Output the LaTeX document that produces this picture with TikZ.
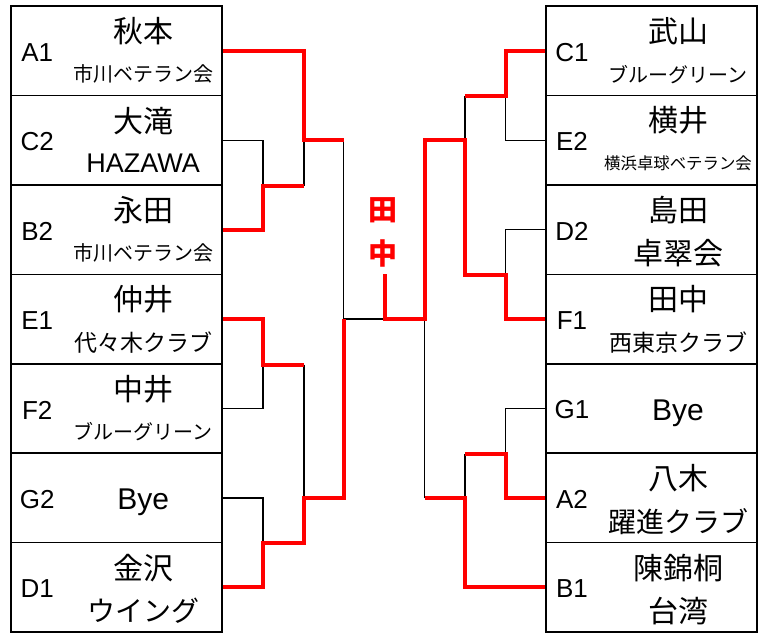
\documentclass[tikz,border=0pt]{standalone}
\usepackage{fontspec}
\setmainfont{Liberation Sans}
\newfontfamily\jp{Noto Sans CJK JP}
\usetikzlibrary{calc}
\newcommand\jn[1]{{\jp\fontsize{30}{30}\selectfont #1}}
\newcommand\js[2]{{\jp\fontsize{#1}{#1}\selectfont #2}}
\newcommand\latn[1]{{\fontsize{27}{27}\selectfont #1}}
\tikzset{
  pbox/.style={draw, line width=1.6pt, minimum width=211pt, minimum height=89.4pt, inner sep=0pt},
  codetext/.style={inner sep=0pt, font=\fontsize{26}{26}\selectfont},
  plain/.style={inner sep=0pt},
  lose/.style={draw=black, line width=1.3pt},
  win/.style={draw=red, line width=4pt, line join=miter}
}
\newcommand\player[6]{%
  \node[pbox] (#1) at (#2,#3) {};
  \node[codetext] (#1c) at ($(#1.north west)+(27,47)$) {#4};
  \node[plain] (#1n) at ($(#1.north west)+(133,26)$) {#5};
  \node[plain] (#1s) at ($(#1.north west)+(133,69)$) {#6};
}
\newcommand\byeplayer[3]{%
  \node[pbox] (#1) at (#2,#3) {};
  \node[codetext] (#1c) at ($(#1.north west)+(27,47)$) {#1};
  \node[plain] (#1n) at ($(#1.north west)+(133,50)$) {{\fontsize{30}{30}\selectfont Bye}};
}
\begin{document}
\begin{tikzpicture}[x=1pt,y=-1pt]
\useasboundingbox (0,0) rectangle (765,633);
% left column
\player{A1}{116.5}{50.7}{A1}{\jn{秋本}}{\js{20}{市川ベテラン会}}
\player{C2}{116.5}{140.2}{C2}{\jn{大滝}}{\latn{HAZAWA}}
\player{B2}{116.5}{229.6}{B2}{\jn{永田}}{\js{20}{市川ベテラン会}}
\player{E1}{116.5}{319.0}{E1}{\jn{仲井}}{\js{23}{代々木クラブ}}
\player{F2}{116.5}{408.5}{F2}{\jn{中井}}{\js{20}{ブルーグリーン}}
\byeplayer{G2}{116.5}{497.9}
\player{D1}{116.5}{587.3}{D1}{\jn{金沢}}{\js{28}{ウイング}}
% right column
\player{C1}{651.3}{50.7}{C1}{\jn{武山}}{\js{20}{ブルーグリーン}}
\player{E2}{651.3}{140.2}{E2}{\jn{横井}}{\js{16.4}{横浜卓球ベテラン会}}
\player{D2}{651.3}{229.6}{D2}{\jn{島田}}{\js{30}{卓翠会}}
\player{F1}{651.3}{319.0}{F1}{\jn{田中}}{\js{23}{西東京クラブ}}
\byeplayer{G1}{651.3}{408.5}
\player{A2}{651.3}{497.9}{A2}{\jn{八木}}{\js{28}{躍進クラブ}}
\player{B1}{651.3}{587.3}{B1}{\jn{陳錦桐}}{\js{30}{台湾}}
% junctions
\coordinate (mL1) at (263,185.5);
\coordinate (mL2) at (263,364.5);
\coordinate (mL3) at (263,543);
\coordinate (mL4) at (304,140);
\coordinate (mL5) at (304,498);
\coordinate (mL6) at (343.5,319);
\coordinate (mR1) at (505.5,96);
\coordinate (mR2) at (505.5,274.5);
\coordinate (mR3) at (505.5,453.5);
\coordinate (mR4) at (465,140);
\coordinate (mR5) at (465,498);
\coordinate (mR6) at (424.5,319);
\coordinate (champ) at (384.5,274);
\node[plain, text=red, align=center, font=\jp\bfseries\fontsize{29}{44}\selectfont] (winner) at (383,232) {田\\中};
% losing lines
\draw[lose] (C2.east) -| (mL1);
\draw[lose] (F2.east) -| (mL2);
\draw[lose] (G2.east) -| (mL3);
\draw[lose] (mL1 -| mL4) -- (mL4);
\draw[lose] (mL2 -| mL5) -- (mL5);
\draw[lose] (mL4 -| mL6) -- (mL6);
\draw[lose] (mL6) -- (mL6 -| champ);
\draw[lose] (E2.west) -| (mR1);
\draw[lose] (D2.west) -| (mR2);
\draw[lose] (G1.west) -| (mR3);
\draw[lose] (mR1 -| mR4) -- (mR4);
\draw[lose] (mR3 -| mR5) -- (mR5);
\draw[lose] (mR5 -| mR6) -- (mR6);
% winning lines
\draw[win] (B2.east) -| (mL1) -- (mL1 -| mL4);
\draw[win] (E1.east) -| (mL2) -- (mL2 -| mL5);
\draw[win] (D1.east) -| (mL3) -- (mL3 -| mL5) -- (mL5) -- (mL5 -| mL6) -- (mL6);
\draw[win] (A1.east) -| (mL4) -- (mL4 -| mL6);
\draw[win] (C1.west) -| (mR1) -- (mR1 -| mR4);
\draw[win] (F1.west) -| (mR2) -- (mR2 -| mR4) -- (mR4) -- (mR4 -| mR6) -- (mR6) -- (mR6 -| champ) -- (champ);
\draw[win] (A2.west) -| (mR3) -- (mR3 -| mR5);
\draw[win] (B1.west) -| (mR5) -- (mR5 -| mR6);
\end{tikzpicture}
\end{document}
